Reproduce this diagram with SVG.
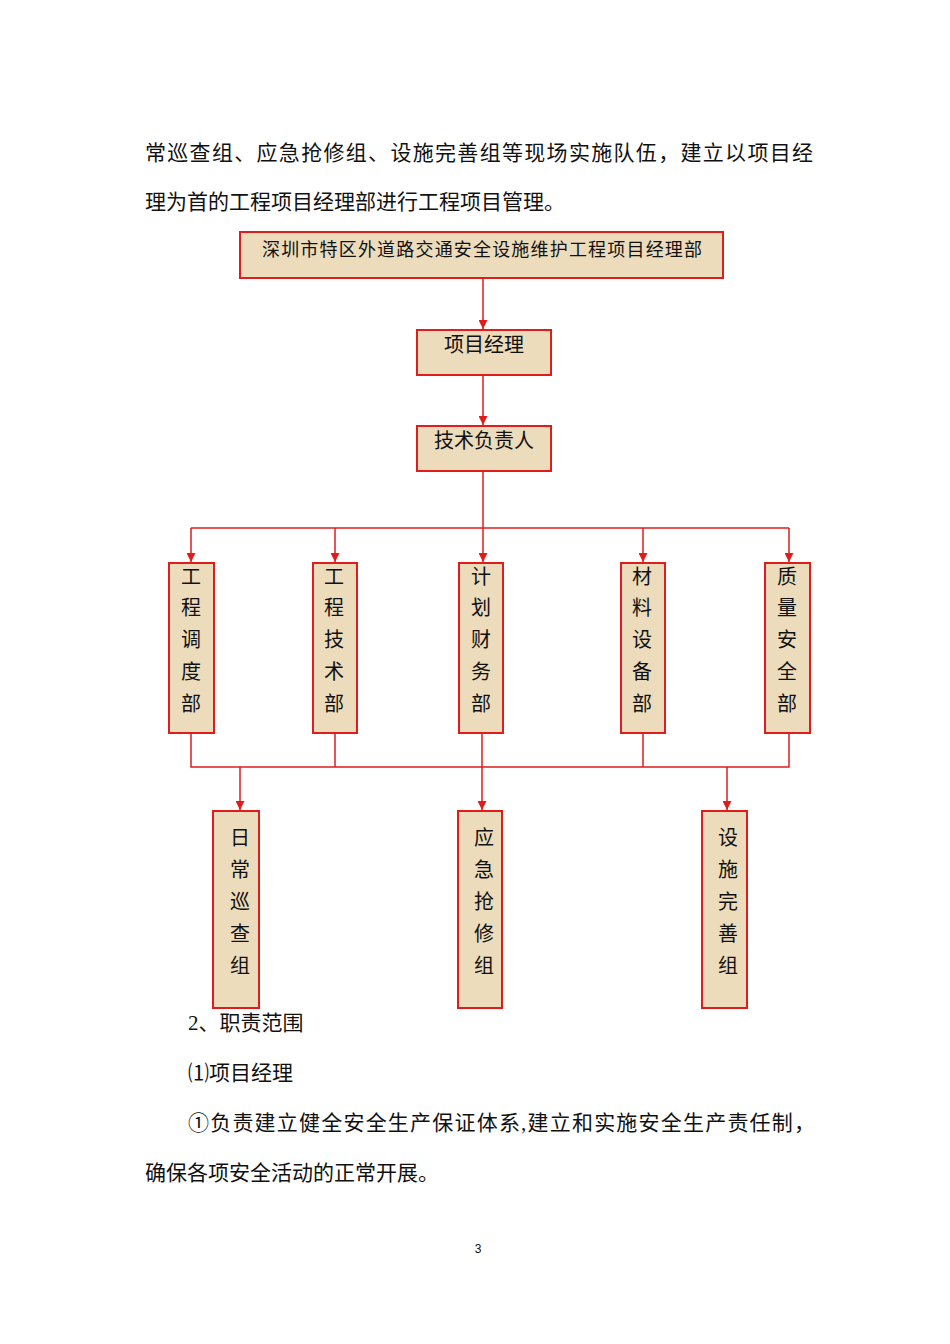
<svg xmlns="http://www.w3.org/2000/svg" width="950" height="1344" viewBox="0 0 950 1344">
<style>
text{font-family:"Liberation Serif","Noto Sans CJK SC",serif;fill:#111}
.p{font-size:21px}
.b{fill:#ecdcbc;stroke:#e01c1c;stroke-width:2}
.n{font-size:20px;text-anchor:middle;dominant-baseline:central}
.c line,.c polyline{stroke:#e01c1c;stroke-width:1.5;fill:none}
</style>
<defs><marker id="a" viewBox="0 0 10 10" refX="10" refY="5" markerWidth="9" markerHeight="9" orient="auto" markerUnits="userSpaceOnUse"><path d="M0,0L10,5L0,10z" fill="#e01c1c"/></marker></defs>
<text class="p" x="145" y="160" textLength="668">常巡查组、应急抢修组、设施完善组等现场实施队伍，建立以项目经</text>
<text class="p" x="145" y="209">理为首的工程项目经理部进行工程项目管理。</text>
<g class="c">
<line x1="483" y1="278" x2="483" y2="329" marker-end="url(#a)"/>
<line x1="483" y1="375" x2="483" y2="425" marker-end="url(#a)"/>
<line x1="483" y1="471" x2="483" y2="528"/>
<line x1="191" y1="528" x2="789" y2="528"/>
<line x1="191" y1="528" x2="191" y2="562" marker-end="url(#a)"/>
<line x1="335" y1="528" x2="335" y2="562" marker-end="url(#a)"/>
<line x1="483" y1="528" x2="483" y2="562" marker-end="url(#a)"/>
<line x1="643" y1="528" x2="643" y2="562" marker-end="url(#a)"/>
<line x1="789" y1="528" x2="789" y2="562" marker-end="url(#a)"/>
<polyline points="191,733 191,767 789,767 789,733"/>
<line x1="335" y1="733" x2="335" y2="767"/>
<line x1="643" y1="733" x2="643" y2="767"/>
<line x1="482" y1="733" x2="482" y2="810" marker-end="url(#a)"/>
<line x1="240" y1="767" x2="240" y2="810" marker-end="url(#a)"/>
<line x1="727" y1="767" x2="727" y2="810" marker-end="url(#a)"/>
</g>
<g id="top"><rect class="b" x="240" y="232" width="483" height="46"/><text x="262" y="256" style="font-size:18px" textLength="440">深圳市特区外道路交通安全设施维护工程项目经理部</text></g>
<g id="pm"><rect class="b" x="417" y="330" width="134" height="45"/><text class="n" x="484" y="345">项目经理</text></g>
<g id="tech"><rect class="b" x="417" y="426" width="134" height="45"/><text class="n" x="484" y="441">技术负责人</text></g>
<g id="d1"><rect class="b" x="169" y="563" width="45" height="170"/><text class="n" x="191"><tspan x="191" y="577">工</tspan><tspan x="191" y="608">程</tspan><tspan x="191" y="640">调</tspan><tspan x="191" y="672">度</tspan><tspan x="191" y="704">部</tspan></text></g>
<g id="d2"><rect class="b" x="313" y="563" width="44" height="170"/><text class="n" x="334"><tspan x="334" y="577">工</tspan><tspan x="334" y="608">程</tspan><tspan x="334" y="640">技</tspan><tspan x="334" y="672">术</tspan><tspan x="334" y="704">部</tspan></text></g>
<g id="d3"><rect class="b" x="459" y="563" width="44" height="170"/><text class="n" x="481"><tspan x="481" y="577">计</tspan><tspan x="481" y="608">划</tspan><tspan x="481" y="640">财</tspan><tspan x="481" y="672">务</tspan><tspan x="481" y="704">部</tspan></text></g>
<g id="d4"><rect class="b" x="621" y="563" width="44" height="170"/><text class="n" x="642"><tspan x="642" y="577">材</tspan><tspan x="642" y="608">料</tspan><tspan x="642" y="640">设</tspan><tspan x="642" y="672">备</tspan><tspan x="642" y="704">部</tspan></text></g>
<g id="d5"><rect class="b" x="765" y="563" width="45" height="170"/><text class="n" x="787"><tspan x="787" y="577">质</tspan><tspan x="787" y="608">量</tspan><tspan x="787" y="640">安</tspan><tspan x="787" y="672">全</tspan><tspan x="787" y="704">部</tspan></text></g>
<g id="g1"><rect class="b" x="213" y="811" width="46" height="197"/><text class="n" x="240"><tspan x="240" y="838">日</tspan><tspan x="240" y="870">常</tspan><tspan x="240" y="902">巡</tspan><tspan x="240" y="934">查</tspan><tspan x="240" y="966">组</tspan></text></g>
<g id="g2"><rect class="b" x="458" y="811" width="44" height="197"/><text class="n" x="484"><tspan x="484" y="838">应</tspan><tspan x="484" y="870">急</tspan><tspan x="484" y="902">抢</tspan><tspan x="484" y="934">修</tspan><tspan x="484" y="966">组</tspan></text></g>
<g id="g3"><rect class="b" x="702" y="811" width="45" height="197"/><text class="n" x="728"><tspan x="728" y="838">设</tspan><tspan x="728" y="870">施</tspan><tspan x="728" y="902">完</tspan><tspan x="728" y="934">善</tspan><tspan x="728" y="966">组</tspan></text></g>
<text class="p" x="188" y="1030">2、职责范围</text>
<text class="p" x="188" y="1080">⑴项目经理</text>
<text class="p" x="188" y="1130" textLength="627">①负责建立健全安全生产保证体系,建立和实施安全生产责任制，</text>
<text class="p" x="145" y="1180">确保各项安全活动的正常开展。</text>
<text x="478" y="1253" style="font-size:12px;font-family:'Liberation Sans',sans-serif" text-anchor="middle">3</text>
</svg>
